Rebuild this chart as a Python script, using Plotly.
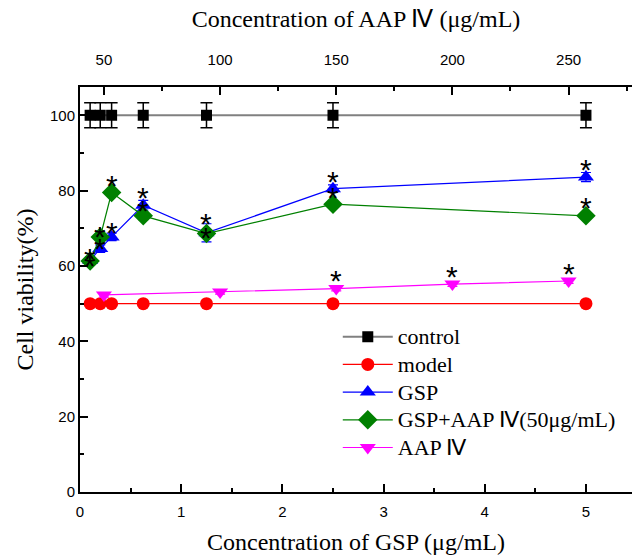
import plotly.graph_objects as go

# ---- data ----
gsp_conc = [0.1, 0.2, 0.3125, 0.625, 1.25, 2.5, 5]
aap_conc = [50, 100, 150, 200, 250]

control = [100, 100, 100, 100, 100, 100, 100]
control_err = [3.3, 3.3, 3.3, 3.3, 3.3, 3.3, 3.3]
model = [50, 50, 50, 50, 50, 50, 50]
gsp = [61.5, 64.6, 67.7, 76.1, 68.8, 80.5, 83.6]
gsp_err = [1.0, 1.0, 1.0, 1.3, 2.4, 1.0, 1.2]
gsp_aap = [61.3, 67.7, 79.5, 73.3, 68.6, 76.4, 73.3]
gsp_aap_err = [0.8, 0.8, 0.8, 1.0, 1.0, 0.8, 0.8]
aap = [52.3, 53.1, 54.0, 55.2, 56.0]
aap_err = [0.6, 0.6, 0.6, 0.6, 0.6]

series_names = ["control", "model", "GSP", "GSP+AAP Ⅳ(50μg/mL)", "AAP Ⅳ"]

gsp_star = [True, True, True, True, True, True, True]
gsp_aap_star = [True, True, True, True, True, True, True]
aap_star = [False, False, True, True, True]

# style: star vertical offsets in px above the point centre
gsp_star_off = [6, 4, 8, 12, 13, 11, 12]
gsp_aap_star_off = [0, 4, 11, 9, 0, 11, 12]
aap_star_off = [12, 12, 12, 12, 12]

SERIF = "Liberation Serif"
SANS = "Liberation Sans"

def lname(s):
    return '<span style="font-size:22px">' + s + '</span>'

fig = go.Figure()

fig.add_trace(go.Scatter(
    x=gsp_conc, y=control, name=lname(series_names[0]), mode="lines+markers",
    line=dict(color="#808080", width=2),
    marker=dict(symbol="square", size=11, color="black"),
    error_y=dict(type="data", array=control_err, color="black", thickness=1.5, width=6),
))
fig.add_trace(go.Scatter(
    x=gsp_conc, y=model, name=lname(series_names[1]), mode="lines+markers",
    line=dict(color="#FF0000", width=1.3),
    marker=dict(symbol="circle", size=13, color="#FF0000"),
))
fig.add_trace(go.Scatter(
    x=gsp_conc, y=gsp, name=lname(series_names[2]), mode="lines+markers",
    line=dict(color="#0000FF", width=1.2),
    marker=dict(symbol="triangle-up", size=14, color="#0000FF"),
    error_y=dict(type="data", array=gsp_err, color="#0000FF", thickness=1.2, width=5),
))
fig.add_trace(go.Scatter(
    x=gsp_conc, y=gsp_aap, name=lname(series_names[3]), mode="lines+markers",
    line=dict(color="#008000", width=1.2),
    marker=dict(symbol="diamond", size=15, color="#008000"),
    error_y=dict(type="data", array=gsp_aap_err, color="#008000", thickness=1.2, width=5),
))
fig.add_trace(go.Scatter(
    x=aap_conc, y=aap, name=lname(series_names[4]), mode="lines+markers", xaxis="x2",
    line=dict(color="#FF00FF", width=1.2),
    marker=dict(symbol="triangle-down", size=14, color="#FF00FF"),
    error_y=dict(type="data", array=aap_err, color="#FF00FF", thickness=1.2, width=5),
))

ann = []
def add_stars(xs, ys, flags, offs, xref):
    for xv, yv, f, o in zip(xs, ys, flags, offs):
        if f:
            ann.append(dict(x=xv, y=yv, xref=xref, yref="y", text="*", showarrow=False,
                            font=dict(family=SANS, size=30, color="black"),
                            yshift=o - 4))

add_stars(gsp_conc, gsp, gsp_star, gsp_star_off, "x")
add_stars(gsp_conc, gsp_aap, gsp_aap_star, gsp_aap_star_off, "x")
add_stars(aap_conc, aap, aap_star, aap_star_off, "x2")

fig.update_layout(
    width=632, height=557,
    margin=dict(l=80, r=0, t=87, b=65),
    paper_bgcolor="white", plot_bgcolor="white",
    showlegend=True,
    legend=dict(x=0.467, y=0.43, xanchor="left", yanchor="top",
                font=dict(family=SERIF, size=19, color="black"),
                bgcolor="rgba(0,0,0,0)", itemwidth=50, tracegroupgap=0),
    annotations=ann,
    xaxis=dict(
        range=[0, 5.455], showgrid=False, zeroline=False,
        showline=True, linecolor="black", linewidth=2,
        ticks="inside", ticklen=8, tickwidth=1.5, tickcolor="black",
        tickvals=[0, 1, 2, 3, 4, 5], ticklabelstandoff=5,
        minor=dict(tickvals=[0.5, 1.5, 2.5, 3.5, 4.5], ticks="inside", ticklen=4, tickwidth=1.5, tickcolor="black"),
        tickfont=dict(family=SANS, size=15, color="black"),
        title=dict(text="Concentration of GSP (μg/mL)", font=dict(family=SERIF, size=24, color="black"), standoff=14),
    ),
    xaxis2=dict(
        overlaying="x", side="top", anchor="y",
        range=[39.7, 277.3], showgrid=False, zeroline=False,
        showline=True, linecolor="black", linewidth=2,
        ticks="inside", ticklen=8, tickwidth=1.5, tickcolor="black",
        tickvals=[50, 100, 150, 200, 250], ticklabelstandoff=14,
        minor=dict(tickvals=[75, 125, 175, 225, 275], ticks="inside", ticklen=4, tickwidth=1.5, tickcolor="black"),
        tickfont=dict(family=SANS, size=15, color="black"),
        title=dict(text="Concentration of AAP Ⅳ (μg/mL)", font=dict(family=SERIF, size=24, color="black"), standoff=17),
    ),
    yaxis=dict(
        range=[0, 107.5], showgrid=False, zeroline=False,
        showline=True, linecolor="black", linewidth=2,
        ticks="inside", ticklen=8, tickwidth=1.5, tickcolor="black",
        tickvals=[0, 20, 40, 60, 80, 100],
        minor=dict(tickvals=[10, 30, 50, 70, 90], ticks="inside", ticklen=4, tickwidth=1.5, tickcolor="black"),
        tickfont=dict(family=SANS, size=15, color="black"),
        title=dict(text="Cell viability(%)", font=dict(family=SERIF, size=24, color="black"), standoff=10),
    ),
)

fig.write_html("out.html")
